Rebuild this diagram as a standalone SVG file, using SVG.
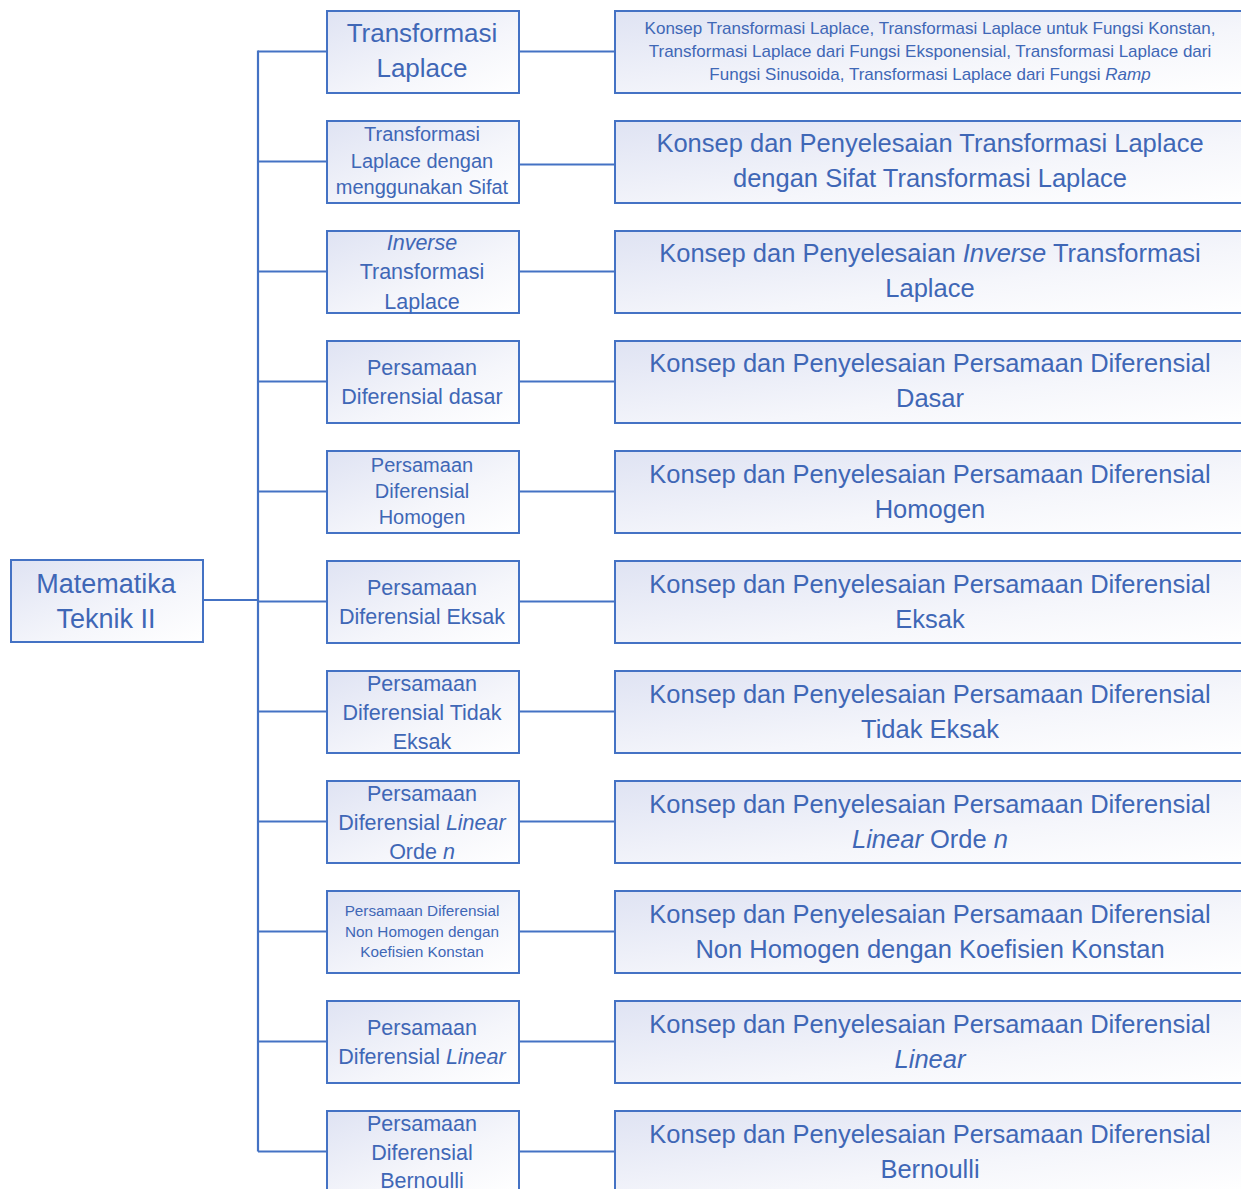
<svg xmlns="http://www.w3.org/2000/svg" width="1241" height="1189" viewBox="0 0 1241 1189">
<defs>
<linearGradient id="g" x1="0" y1="0" x2="1" y2="1">
<stop offset="0" stop-color="#dfe3f3"/>
<stop offset="0.6" stop-color="#f5f6fb"/>
<stop offset="1" stop-color="#ffffff"/>
</linearGradient>
</defs>
<style>
.box{fill:url(#g);stroke:#4472c4;stroke-width:2}
.ln{stroke:#4472c4;stroke-width:2.2;fill:none}
text{font-family:"Liberation Sans",Arial,sans-serif;fill:#3f67b6;text-anchor:middle}
.r{font-size:25.5px}
.m26{font-size:26px}
.m22{font-size:21.5px}
.m20{font-size:20px}
.m15{font-size:15.3px}
.s17{font-size:17px}
.i{font-style:italic}
</style>
<g id="connectors">
<path class="ln" d="M258 50.5V1151.5"/>
<path class="ln" d="M203 600H258"/>
<path class="ln" d="M258 51.5H326M258 161.5H326M258 271.5H326M258 381.5H326M258 491.5H326M258 601.5H326M258 711.5H326M258 821.5H326M258 931.5H326M258 1041.5H326M258 1151.5H326"/>
<path class="ln" d="M519 51.5H614M519 164.5H614M519 271.5H614M519 381.5H614M519 491.5H614M519 601.5H614M519 711.5H614M519 821.5H614M519 931.5H614M519 1041.5H614M519 1151.5H614"/>
</g>
<g id="root">
<rect class="box" x="11" y="560" width="192" height="82"/>
<text class="m26" x="106" y="593" style="font-size:27px">Matematika</text>
<text class="m26" x="106" y="628" style="font-size:27px">Teknik II</text>
</g>
<g id="m0"><rect class="box" x="327" y="11" width="192" height="82"/>
<text class="m26" x="422" y="42">Transformasi</text><text class="m26" x="422" y="77">Laplace</text></g>
<g id="r0"><rect class="box" x="615" y="11" width="640" height="82"/>
<text class="s17" x="930" y="34">Konsep Transformasi Laplace, Transformasi Laplace untuk Fungsi Konstan,</text>
<text class="s17" x="930" y="57">Transformasi Laplace dari Fungsi Eksponensial, Transformasi Laplace dari</text>
<text class="s17" x="930" y="80">Fungsi Sinusoida, Transformasi Laplace dari Fungsi <tspan class="i">Ramp</tspan></text></g>

<g id="m1"><rect class="box" x="327" y="121" width="192" height="82"/>
<text class="m20" x="422" y="141">Transformasi</text><text class="m20" x="422" y="168">Laplace dengan</text><text class="m20" x="422" y="194">menggunakan Sifat</text></g>
<g id="r1"><rect class="box" x="615" y="121" width="640" height="82"/>
<text class="r" x="930" y="152">Konsep dan Penyelesaian Transformasi Laplace</text><text class="r" x="930" y="187">dengan Sifat Transformasi Laplace</text></g>

<g id="m2"><rect class="box" x="327" y="231" width="192" height="82"/>
<text class="m22 i" x="422" y="250">Inverse</text><text class="m22" x="422" y="279">Transformasi</text><text class="m22" x="422" y="309">Laplace</text></g>
<g id="r2"><rect class="box" x="615" y="231" width="640" height="82"/>
<text class="r" x="930" y="262">Konsep dan Penyelesaian <tspan class="i">Inverse</tspan> Transformasi</text><text class="r" x="930" y="297">Laplace</text></g>

<g id="m3"><rect class="box" x="327" y="341" width="192" height="82"/>
<text class="m22" x="422" y="375">Persamaan</text><text class="m22" x="422" y="404">Diferensial dasar</text></g>
<g id="r3"><rect class="box" x="615" y="341" width="640" height="82"/>
<text class="r" x="930" y="372">Konsep dan Penyelesaian Persamaan Diferensial</text><text class="r" x="930" y="407">Dasar</text></g>

<g id="m4"><rect class="box" x="327" y="451" width="192" height="82"/>
<text class="m20" x="422" y="472">Persamaan</text><text class="m20" x="422" y="498">Diferensial</text><text class="m20" x="422" y="524">Homogen</text></g>
<g id="r4"><rect class="box" x="615" y="451" width="640" height="82"/>
<text class="r" x="930" y="483">Konsep dan Penyelesaian Persamaan Diferensial</text><text class="r" x="930" y="518">Homogen</text></g>

<g id="m5"><rect class="box" x="327" y="561" width="192" height="82"/>
<text class="m22" x="422" y="595">Persamaan</text><text class="m22" x="422" y="624">Diferensial Eksak</text></g>
<g id="r5"><rect class="box" x="615" y="561" width="640" height="82"/>
<text class="r" x="930" y="593">Konsep dan Penyelesaian Persamaan Diferensial</text><text class="r" x="930" y="628">Eksak</text></g>

<g id="m6"><rect class="box" x="327" y="671" width="192" height="82"/>
<text class="m22" x="422" y="691">Persamaan</text><text class="m22" x="422" y="720">Diferensial Tidak</text><text class="m22" x="422" y="749">Eksak</text></g>
<g id="r6"><rect class="box" x="615" y="671" width="640" height="82"/>
<text class="r" x="930" y="703">Konsep dan Penyelesaian Persamaan Diferensial</text><text class="r" x="930" y="738">Tidak Eksak</text></g>

<g id="m7"><rect class="box" x="327" y="781" width="192" height="82"/>
<text class="m22" x="422" y="801">Persamaan</text><text class="m22" x="422" y="830">Diferensial <tspan class="i">Linear</tspan></text><text class="m22" x="422" y="859">Orde <tspan class="i">n</tspan></text></g>
<g id="r7"><rect class="box" x="615" y="781" width="640" height="82"/>
<text class="r" x="930" y="813">Konsep dan Penyelesaian Persamaan Diferensial</text><text class="r" x="930" y="848"><tspan class="i">Linear</tspan> Orde <tspan class="i">n</tspan></text></g>

<g id="m8"><rect class="box" x="327" y="891" width="192" height="82"/>
<text class="m15" x="422" y="916">Persamaan Diferensial</text><text class="m15" x="422" y="937">Non Homogen dengan</text><text class="m15" x="422" y="957">Koefisien Konstan</text></g>
<g id="r8"><rect class="box" x="615" y="891" width="640" height="82"/>
<text class="r" x="930" y="923">Konsep dan Penyelesaian Persamaan Diferensial</text><text class="r" x="930" y="958">Non Homogen dengan Koefisien Konstan</text></g>

<g id="m9"><rect class="box" x="327" y="1001" width="192" height="82"/>
<text class="m22" x="422" y="1035">Persamaan</text><text class="m22" x="422" y="1064">Diferensial <tspan class="i">Linear</tspan></text></g>
<g id="r9"><rect class="box" x="615" y="1001" width="640" height="82"/>
<text class="r" x="930" y="1033">Konsep dan Penyelesaian Persamaan Diferensial</text><text class="r i" x="930" y="1068">Linear</text></g>

<g id="m10"><rect class="box" x="327" y="1111" width="192" height="82"/>
<text class="m22" x="422" y="1131">Persamaan</text><text class="m22" x="422" y="1160">Diferensial</text><text class="m22" x="422" y="1188">Bernoulli</text></g>
<g id="r10"><rect class="box" x="615" y="1111" width="640" height="82"/>
<text class="r" x="930" y="1143">Konsep dan Penyelesaian Persamaan Diferensial</text><text class="r" x="930" y="1178">Bernoulli</text></g>
</svg>
